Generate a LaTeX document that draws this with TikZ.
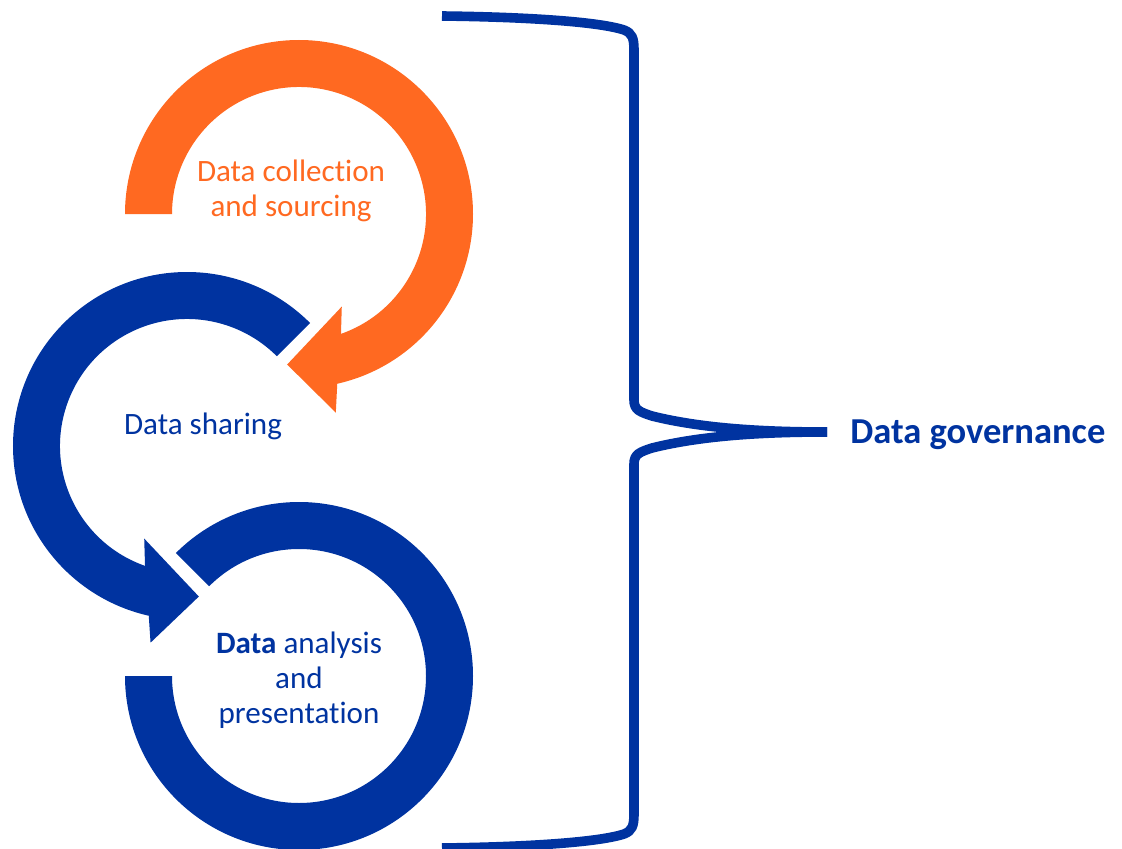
\documentclass[tikz,border=0pt]{standalone}
\usepackage{fontspec}
\setmainfont{Carlito}[Ligatures=NoCommon]
\usetikzlibrary{calc}
\definecolor{govblue}{RGB}{0,51,160}
\definecolor{govorange}{RGB}{255,105,33}
\begin{document}
\begin{tikzpicture}[x=0.75pt,y=-0.75pt,
    stage/.style={align=center,inner sep=0pt,font=\fontsize{23.3}{26.3}\selectfont},
    brace/.style={draw=govblue,line width=7.2pt}]
    \useasboundingbox (0,0) rectangle (1122,849);
    \def\Rout{130.5pt}
    \def\Rin{95.25pt}
    \coordinate (c1) at (299,214);
    \coordinate (c2) at (187,446);
    \coordinate (c3) at (299,676);
    \fill[govorange] ($(c1)+(180:\Rout)$) arc[start angle=180,end angle=-77.3,radius=\Rout]
        -- ($(c1)+(-79.5:151.5pt)$) -- ($(c1)+(-94.5:113.25pt)$) -- ($(c1)+(-65.2:76.5pt)$)
        -- ($(c1)+(-70.7:\Rin)$) arc[start angle=-70.7,end angle=180,radius=\Rin] -- cycle;
    \fill[govblue] ($(c2)+(45:\Rout)$) arc[start angle=45,end angle=257.3,radius=\Rout]
        -- ($(c2)+(259.5:150pt)$) -- ($(c2)+(274.5:113.25pt)$) -- ($(c2)+(245.2:76.5pt)$)
        -- ($(c2)+(250.7:\Rin)$) arc[start angle=250.7,end angle=45,radius=\Rin] -- cycle;
    \fill[govblue] ($(c3)+(180:\Rout)$) arc[start angle=180,end angle=495,radius=\Rout]
        -- ($(c3)+(135:\Rin)$) arc[start angle=135,end angle=-180,radius=\Rin] -- cycle;
    \node[stage,text=govorange] (collect) at (291,191) {Data collection\\and sourcing};
    \node[stage,text=govblue] (share) at (203,426.5) {Data sharing};
    \node[stage,text=govblue] (analyse) at (299,680.5) {\textbf{Data} analysis\\and\\presentation};
    \node[anchor=base west,inner sep=0pt,text=govblue,font=\bfseries\fontsize{27.4}{30}\selectfont]
        (gov) at (850,443) {Data governance};
    \coordinate (tip) at (827,432);
    \draw[brace] (442,16) .. controls (530,17) and (600,22) .. (624,30)
        .. controls (632,33) and (634,38) .. (634,50) -- (634,400)
        .. controls (634,410) and (640,412) .. (652,416)
        .. controls (700,428) and (760,432) .. (tip);
    \draw[brace] (tip) .. controls (760,432) and (700,436) .. (652,448)
        .. controls (640,452) and (634,454) .. (634,464) -- (634,814)
        .. controls (634,826) and (632,831) .. (624,834)
        .. controls (600,842) and (530,847) .. (442,848);
\end{tikzpicture}
\end{document}
